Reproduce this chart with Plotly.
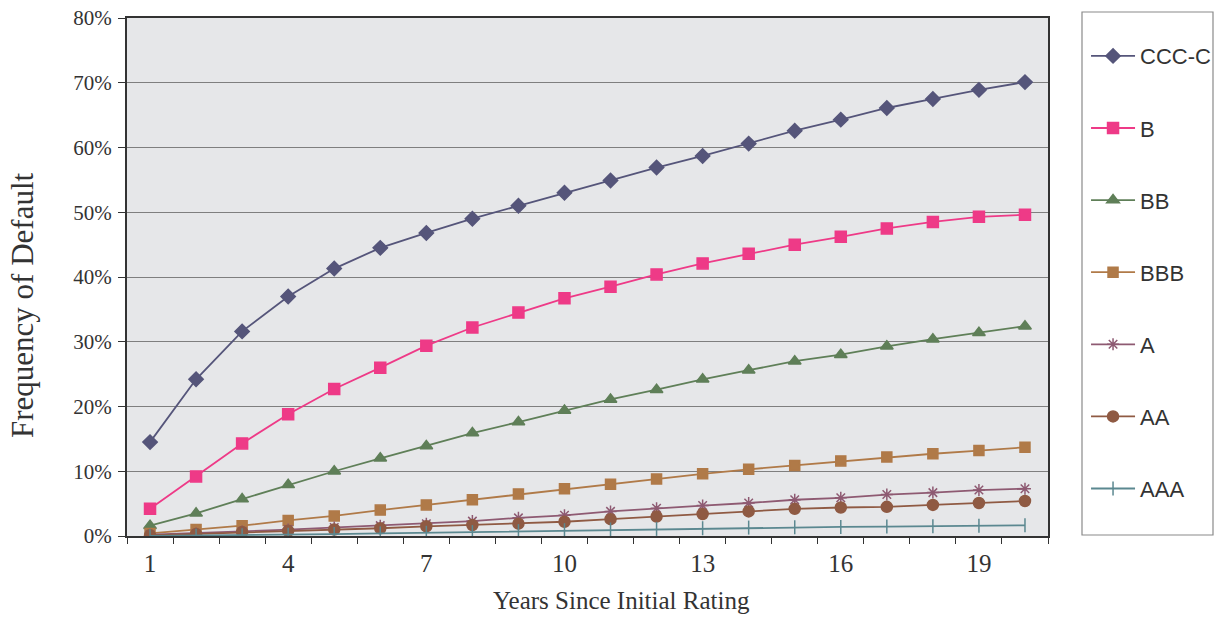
import plotly.graph_objects as go

years = list(range(1, 21))
ccc_c = [14.5, 24.2, 31.6, 37.0, 41.3, 44.5, 46.8, 49.0, 51.0, 53.0, 54.9, 56.9, 58.7, 60.6, 62.6, 64.3, 66.1, 67.5, 68.9, 70.1]
b = [4.2, 9.2, 14.3, 18.8, 22.7, 26.0, 29.4, 32.2, 34.5, 36.7, 38.5, 40.4, 42.1, 43.6, 45.0, 46.2, 47.5, 48.5, 49.3, 49.6]
bb = [1.6, 3.5, 5.7, 7.9, 10.0, 12.0, 13.9, 15.9, 17.6, 19.4, 21.1, 22.6, 24.2, 25.6, 27.0, 28.0, 29.3, 30.4, 31.4, 32.4]
bbb = [0.4, 1.0, 1.6, 2.4, 3.1, 4.0, 4.8, 5.6, 6.5, 7.3, 8.0, 8.8, 9.6, 10.3, 10.9, 11.6, 12.2, 12.7, 13.2, 13.7]
a = [0.2, 0.4, 0.7, 1.0, 1.3, 1.6, 1.9, 2.3, 2.8, 3.2, 3.8, 4.3, 4.7, 5.1, 5.6, 5.9, 6.4, 6.7, 7.1, 7.3]
aa = [0.1, 0.3, 0.6, 0.8, 1.0, 1.2, 1.5, 1.7, 1.9, 2.2, 2.6, 3.0, 3.4, 3.8, 4.2, 4.4, 4.5, 4.8, 5.1, 5.4]
aaa = [0.0, 0.05, 0.1, 0.2, 0.3, 0.4, 0.5, 0.6, 0.75, 0.9, 1.0, 1.1, 1.2, 1.3, 1.35, 1.4, 1.45, 1.5, 1.6, 1.65]

names = ["CCC-C", "B", "BB", "BBB", "A", "AA", "AAA"]
series = [ccc_c, b, bb, bbb, a, aa, aaa]
colors = ["#55557a", "#ee3a87", "#5f7f58", "#b07a48", "#8e5a72", "#8f5a43", "#5b8890"]
symbols = ["diamond", "square", "triangle-up", "square", "asterisk-open", "circle", "line-ns-open"]
sizes = [11, 11, 11, 10, 10, 11, 10]

x_labels = [1, 4, 7, 10, 13, 16, 19]
y_ticks = [0, 10, 20, 30, 40, 50, 60, 70, 80]
x_title = "Years Since Initial Rating"
y_title = "Frequency of Default"

fig = go.Figure()
for i, (n, s) in enumerate(zip(names, series)):
    fig.add_trace(go.Scatter(
        x=years, y=s, name=n, mode="lines+markers",
        line=dict(color=colors[i], width=1.8),
        marker=dict(symbol=symbols[i], size=sizes[i], color=colors[i],
                    line=dict(color=colors[i], width=1.5)),
        legendgroup=n,
    ))

serif = "Liberation Serif, Times New Roman, serif"
PW, PH, L, B = 921, 518, 127, 536
fig.update_layout(
    width=1214, height=617,
    margin=dict(l=127, r=166, t=18, b=81, autoexpand=False),
    paper_bgcolor="white",
    plot_bgcolor="#e6e7e9",
    showlegend=True,
    legend=dict(
        x=1.0413, y=0.967, xanchor="left", yanchor="top",
        font=dict(family="Liberation Sans, Arial, sans-serif", size=22, color="#333333"),
        bgcolor="rgba(0,0,0,0)", borderwidth=0,
        traceorder="grouped", tracegroupgap=40.5, itemwidth=44,
    ),
    xaxis=dict(
        range=[0.5, 20.5], tickmode="array", tickvals=x_labels,
        ticktext=[str(v) for v in x_labels], ticks="", ticklabelstandoff=4,
        showgrid=False, zeroline=False, automargin=False,
        showline=True, linecolor="#333333", linewidth=2, mirror=True,
        tickfont=dict(family=serif, size=25, color="#333333"),
        minor=dict(tickmode="linear", tick0=0.5, dtick=1, ticks="outside",
                   ticklen=6, tickcolor="#333333", tickwidth=1, showgrid=False),
    ),
    yaxis=dict(
        range=[0, 80], tickmode="array", tickvals=y_ticks,
        ticktext=[f"{v}%" for v in y_ticks],
        ticks="outside", ticklen=7, tickcolor="#333333", ticklabelstandoff=2,
        showgrid=True, gridcolor="#7f7f7f", gridwidth=1, zeroline=False,
        showline=True, linecolor="#333333", linewidth=2, mirror=True,
        automargin=False,
        tickfont=dict(family=serif, size=21, color="#333333"),
    ),
)

fig.add_annotation(text=x_title, xref="paper", yref="paper",
                   x=(621 - L) / PW, y=-(600 - B) / PH, xanchor="center", yanchor="middle",
                   showarrow=False, font=dict(family=serif, size=25, color="#333333"))
fig.add_annotation(text=y_title, xref="paper", yref="paper", textangle=-90,
                   x=(22 - L) / PW, y=(B - 305) / PH, xanchor="center", yanchor="middle",
                   showarrow=False, font=dict(family=serif, size=31, color="#333333"))

fig.add_shape(type="rect", xref="paper", yref="paper",
              x0=(1082 - L) / PW, x1=(1213 - L) / PW,
              y0=(B - 535) / PH, y1=(B - 12) / PH,
              line=dict(color="#8a8a8a", width=1.2), fillcolor="rgba(0,0,0,0)")

fig.write_html("out.html", config={"displayModeBar": False},
               post_script="document.body.style.margin='0';document.body.style.overflow='hidden';")
